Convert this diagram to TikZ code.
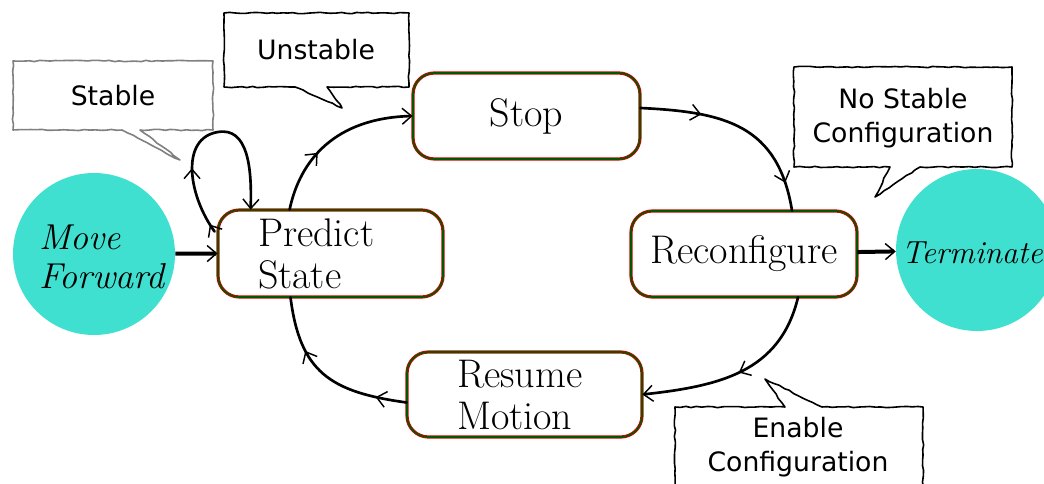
\documentclass[tikz,border=0pt]{standalone}
\usepackage{fontspec}
\newfontfamily\calloutfont{DejaVu Sans}
\usetikzlibrary{arrows.meta,decorations.markings,decorations.pathmorphing,calc}
\definecolor{turq}{HTML}{40E0D0}
\begin{document}
\begin{tikzpicture}[x=0.75pt,y=-0.75pt,
  >={Straight Barb[length=7pt,width=12pt,line width=1.1pt]},
  statebox/.style={rectangle, rounded corners=16pt, draw=red!85!black, line width=0.6pt,
    double=green!35!black, double distance=1.2pt, inner sep=0pt,
    font=\fontsize{30}{31.5}\selectfont},
  endcircle/.style={circle, fill=turq, inner sep=0pt, minimum size=121.5pt},
  circtext/.style={font=\fontsize{27}{29}\selectfont\itshape, align=left},
  flow/.style={line width=2pt, line cap=round},
  flowthick/.style={line width=3pt},
  bubble/.style={line width=1.2pt, line join=round, decorate,
    decoration={random steps, segment length=4pt, amplitude=0.5pt}},
  bubbletext/.style={font=\calloutfont\fontsize{20}{26}\selectfont, align=center, inner sep=0pt},
]
\useasboundingbox (0,0) rectangle (1044,484);

% callouts
\draw[bubble, draw=black!50] (13,61) -- (213,61) -- (213,130) -- (140,130) -- (180,160) -- (122,130) -- (13,130) -- cycle;
\node[bubbletext] (stabletxt) at (113,96) {Stable};

\draw[bubble] (224,13) -- (409,13) -- (409,87) -- (327,87) -- (342,108) -- (295,87) -- (224,87) -- cycle;
\node[bubbletext] (unstabletxt) at (316,50) {Unstable};

\draw[bubble] (794,67) -- (1012,67) -- (1012,167) -- (920,167) -- (875,197) -- (890,167) -- (794,167) -- cycle;
\node[bubbletext] (nostabletxt) at (903,118) {No Stable\\Configuration};

\draw[bubble] (675,500) -- (675,407) -- (785,407) -- (765,379) -- (822,407) -- (923,407) -- (923,500);
\node[bubbletext] (enabletxt) at (798,447) {Enable\\Configuration};

% circles
\node[endcircle, label={[circtext, xshift=6pt, yshift=-2pt]center:Move\\Forward}] (mf) at (94,254) {};
\node[endcircle] (term) at (977,250) {};
\node[circtext, font=\fontsize{24}{29}\selectfont\itshape, anchor=east, inner sep=0pt] (termtxt) at (1043,253) {Terminate};

% states
\node[statebox, text width=108.75pt, inner xsep=30pt, minimum height=65.25pt, align=left] (predict) at (330.5,253.5) {Predict\\State};
\node[statebox, minimum width=170.25pt, minimum height=64.5pt] (stop) at (526.5,116) {Stop};
\node[statebox, minimum width=169.5pt, minimum height=64.5pt] (reconf) at (744,254) {Reconfigure};
\node[statebox, text width=101.25pt, inner xsep=37.5pt, minimum height=63.75pt, align=left] (resume) at (524.5,394.5) {Resume\\Motion};

% connectors
\draw[flowthick,->] (mf) -- (predict.west);
\draw[flowthick,->] (reconf) -- (term);

% self loop
\draw[flow,->, postaction={decorate}, decoration={markings,
    mark=at position 0.04 with {\arrow{>}}, mark=at position 0.32 with {\arrow{>}}}]
  ($(predict.north west)+(-3,22)$) .. controls (188,195) and (180,138) .. (218,132)
  .. controls (248,127) and (252,168) .. ($(predict.north west)+(33,0)$);

\draw[flow,->, postaction={decorate}, decoration={markings,
    mark=at position 0.38 with {\arrow{>}}}]
  ($(predict.north west)+(72,0)$) .. controls (300,160) and (335,118) .. (stop.west);

\draw[flow, postaction={decorate}, decoration={markings,
    mark=at position 0.3 with {\arrow{>}}, mark=at position 0.86 with {\arrow{>}}}]
  ($(stop.east)+(0,-8)$) .. controls (725,112) and (778,125) .. ($(reconf.north)+(48,0)$);

\draw[flow,->, postaction={decorate}, decoration={markings,
    mark=at position 0.5 with {\arrow{>}}}]
  ($(reconf.south)+(54,0)$) .. controls (780,372) and (720,386) .. (resume.east);

\draw[flow, postaction={decorate}, decoration={markings,
    mark=at position 0.18 with {\arrow{>}}, mark=at position 0.68 with {\arrow{>}}}]
  ($(resume.west)+(0,8)$) .. controls (330,392) and (300,372) .. ($(predict.south)+(-40,0)$);
\end{tikzpicture}
\end{document}
